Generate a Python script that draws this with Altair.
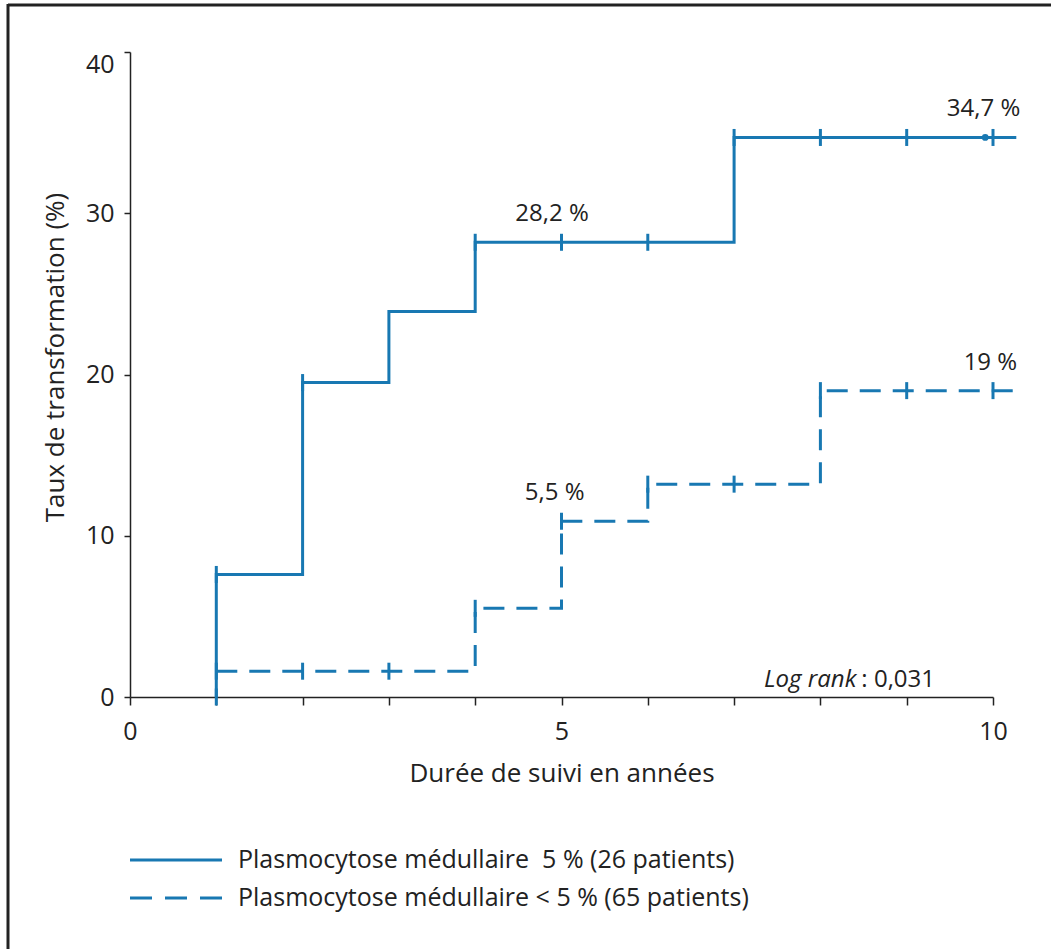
import altair as alt
import pandas as pd

# Kaplan-Meier style cumulative transformation curves (step-after)
solid_years = [1, 1, 2, 3, 4, 7, 10.27]
solid_rates = [0, 7.6, 19.5, 23.9, 28.2, 34.7, 34.7]

dashed_years = [1, 4, 5, 6, 8, 10.27]
dashed_rates = [1.6, 5.5, 10.9, 13.2, 19.0, 19.0]

# censoring marks
solid_cens_years = [1, 1, 2, 4, 5, 6, 7, 8, 9, 10]
solid_cens_rates = [0, 7.6, 19.5, 28.2, 28.2, 28.2, 34.7, 34.7, 34.7, 34.7]
dashed_cens_years = [1, 2, 3, 4, 5, 6, 7, 8, 9, 10]
dashed_cens_rates = [1.6, 1.6, 1.6, 5.5, 10.9, 13.2, 13.2, 19.0, 19.0, 19.0]
dot_years = [9.91]
dot_rates = [34.7]

# rate annotations
note_texts = ["28,2 %", "34,7 %", "19 %", "5,5 %"]
note_years = [4.89, 9.89, 9.97, 4.92]
note_rates = [28.2, 34.7, 19.0, 10.9]

legend_labels = [
    "Plasmocytose médullaire\u00a0\u00a05 % (26 patients)",
    "Plasmocytose médullaire < 5 % (65 patients)",
]

BLUE = "#1878b2"
INK = "#222222"
FONT = "Open Sans"
W, H = 863, 645

x_scale = alt.Scale(domain=[0, 10], nice=False, zero=False)
y_scale = alt.Scale(domain=[0, 40], nice=False)

solid_df = pd.DataFrame({"t": solid_years, "r": solid_rates})
dashed_df = pd.DataFrame({"t": dashed_years, "r": dashed_rates})
cens_df = pd.concat([
    pd.DataFrame({"t": solid_cens_years, "r": solid_cens_rates}),
    pd.DataFrame({"t": dashed_cens_years, "r": dashed_cens_rates}),
])
dot_df = pd.DataFrame({"t": dot_years, "r": dot_rates})
notes_df = pd.DataFrame({"t": note_years, "r": note_rates, "txt": note_texts})

x_enc = alt.X(
    "t:Q", scale=x_scale,
    axis=alt.Axis(
        title="Durée de suivi en années", values=list(range(11)), format="d",
        labelExpr="datum.value % 5 == 0 ? datum.label : ''",
        labelFlush=False,
        tickSize=8, tickColor=INK, tickWidth=1.5,
        domainColor=INK, domainWidth=1.5, grid=False,
        labelFontSize=25, labelFont=FONT, labelColor=INK, labelPadding=14,
        titleFontSize=26, titleFont=FONT, titleFontWeight="normal",
        titleColor=INK, titlePadding=16,
    ),
)
y_enc = alt.Y(
    "r:Q", scale=y_scale,
    axis=alt.Axis(
        title="Taux de transformation (%)", values=[0, 10, 20, 30, 40],
        labelFlush=False,
        labelBaseline=alt.expr("datum.value == 40 ? 'top' : 'middle'"),
        tickSize=6, tickColor=INK, tickWidth=1.5,
        domainColor=INK, domainWidth=1.5, grid=False,
        labelFontSize=25, labelFont=FONT, labelColor=INK, labelPadding=10,
        titleFontSize=26, titleFont=FONT, titleFontWeight="normal",
        titleColor=INK, titleX=-75, titleY=305, titleAngle=-90,
        titleAlign="center", titleBaseline="middle",
    ),
)

solid_line = alt.Chart(solid_df).mark_line(
    interpolate="step-after", color=BLUE, strokeWidth=3, clip=False
).encode(x=x_enc, y=y_enc)

dashed_line = alt.Chart(dashed_df).mark_line(
    interpolate="step-after", color=BLUE, strokeWidth=3,
    strokeDash=[21, 12], clip=False
).encode(x="t:Q", y="r:Q")

cens = alt.Chart(cens_df).mark_tick(
    orient="vertical", size=17, thickness=3, color=BLUE, opacity=1, clip=False
).encode(x="t:Q", y="r:Q")

dot = alt.Chart(dot_df).mark_point(
    filled=True, size=45, color=BLUE, opacity=1, clip=False
).encode(x="t:Q", y="r:Q")

notes = alt.Chart(notes_df).mark_text(
    font=FONT, fontSize=24, color=INK, dy=-28, align="center", baseline="middle"
).encode(x="t:Q", y="r:Q", text="txt:N")

logrank_a = alt.Chart(pd.DataFrame({"t": [8.44], "r": [0.6]})).mark_text(
    font=FONT, fontSize=24, fontStyle="italic", color=INK,
    align="right", baseline="alphabetic", dx=-2
).encode(x="t:Q", y="r:Q", text=alt.value("Log rank"))

logrank_b = alt.Chart(pd.DataFrame({"t": [8.44], "r": [0.6]})).mark_text(
    font=FONT, fontSize=24, color=INK,
    align="left", baseline="alphabetic", dx=3
).encode(x="t:Q", y="r:Q", text=alt.value(": 0,031"))

# legend drawn below the axes
leg_solid = alt.Chart().mark_rule(color=BLUE, strokeWidth=3).encode(
    x=alt.value(0), x2=alt.value(92), y=alt.value(808))
leg_dashed = alt.Chart().mark_rule(color=BLUE, strokeWidth=3, strokeDash=[22, 13]).encode(
    x=alt.value(0), x2=alt.value(92), y=alt.value(846))
leg_text1 = alt.Chart().mark_text(
    font=FONT, fontSize=25, color=INK, align="left", baseline="middle"
).encode(x=alt.value(108), y=alt.value(808), text=alt.value(legend_labels[0]))
leg_text2 = alt.Chart().mark_text(
    font=FONT, fontSize=25, color=INK, align="left", baseline="middle"
).encode(x=alt.value(108), y=alt.value(846), text=alt.value(legend_labels[1]))

# frame lines along the top and left edges
frame_top = alt.Chart().mark_rule(color=INK, strokeWidth=3).encode(
    x=alt.value(-122), x2=alt.value(960), y=alt.value(-47))
frame_left = alt.Chart().mark_rule(color=INK, strokeWidth=3).encode(
    x=alt.value(-122), y=alt.value(-48), y2=alt.value(920))

chart = alt.layer(
    frame_top, frame_left,
    solid_line, dashed_line, cens, dot, notes, logrank_a, logrank_b,
    leg_solid, leg_dashed, leg_text1, leg_text2,
).properties(
    width=W, height=H,
    autosize=alt.AutoSizeParams(type="none"),
    padding={"left": 130, "top": 52, "right": 58, "bottom": 252},
    background="white",
).configure_view(stroke=None)

chart.save("out.html", embed_options={"renderer": "svg", "actions": False})
